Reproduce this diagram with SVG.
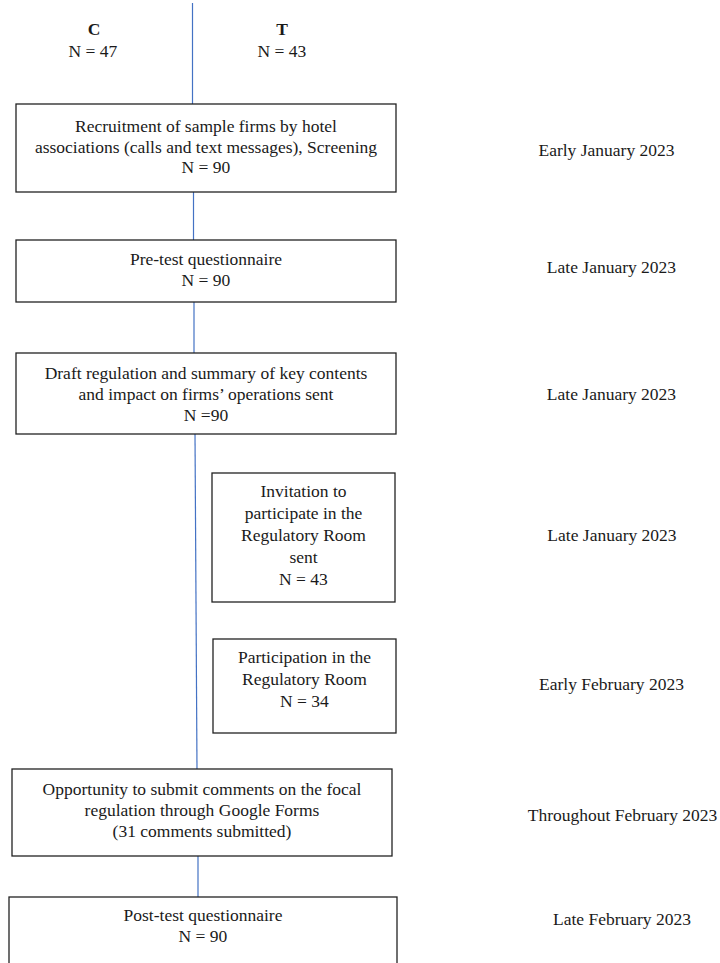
<svg xmlns="http://www.w3.org/2000/svg" width="720" height="963" viewBox="0 0 720 963">
<style>
text{font-family:"Liberation Serif","Times New Roman",serif;font-size:17.5px;fill:#1a1a1a;text-anchor:middle}
.b{font-weight:bold}
.box{fill:#fff;stroke:#222;stroke-width:1.3}
.con{stroke:#4472C4;stroke-width:1.2;fill:none}
</style>
<rect width="720" height="963" fill="#fff"/>
<g id="connectors">
<line class="con" x1="192.5" y1="3" x2="192.5" y2="104"/>
<line class="con" x1="193.5" y1="192" x2="193.5" y2="240"/>
<line class="con" x1="194" y1="302" x2="194" y2="353"/>
<line class="con" x1="195" y1="434" x2="197" y2="769"/>
<line class="con" x1="198" y1="856" x2="198" y2="897"/>
</g>
<g id="group-labels">
<text class="b" x="94" y="35">C</text>
<text x="93" y="57">N = 47</text>
<text class="b" x="282" y="35">T</text>
<text x="282" y="57">N = 43</text>
</g>
<g id="recruitment">
<rect class="box" x="16" y="104" width="380" height="88"/>
<text x="206" y="132">Recruitment of sample firms by hotel</text>
<text x="206" y="152.5">associations (calls and text messages), Screening</text>
<text x="206" y="173">N = 90</text>
</g>
<g id="pretest">
<rect class="box" x="16" y="240" width="380" height="62"/>
<text x="206" y="265">Pre-test questionnaire</text>
<text x="206" y="286">N = 90</text>
</g>
<g id="draft">
<rect class="box" x="16" y="353" width="380" height="81"/>
<text x="206" y="379">Draft regulation and summary of key contents</text>
<text x="206" y="400">and impact on firms’ operations sent</text>
<text x="206" y="421">N =90</text>
</g>
<g id="invitation">
<rect class="box" x="212" y="473" width="183" height="129"/>
<text x="303.5" y="497">Invitation to</text>
<text x="303.5" y="519">participate in the</text>
<text x="303.5" y="541">Regulatory Room</text>
<text x="303.5" y="563">sent</text>
<text x="303.5" y="585">N = 43</text>
</g>
<g id="participation">
<rect class="box" x="213" y="639" width="183" height="94"/>
<text x="304.5" y="663">Participation in the</text>
<text x="304.5" y="685">Regulatory Room</text>
<text x="304.5" y="707">N = 34</text>
</g>
<g id="comments">
<rect class="box" x="12" y="769" width="380" height="87"/>
<text x="202" y="795">Opportunity to submit comments on the focal</text>
<text x="202" y="816">regulation through Google Forms</text>
<text x="202" y="837">(31 comments submitted)</text>
</g>
<g id="posttest">
<rect class="box" x="9" y="897" width="388" height="80"/>
<text x="203" y="921">Post-test questionnaire</text>
<text x="203" y="942">N = 90</text>
</g>
<g id="dates">
<text x="606.5" y="156">Early January 2023</text>
<text x="611.5" y="273">Late January 2023</text>
<text x="611.5" y="400">Late January 2023</text>
<text x="612" y="541">Late January 2023</text>
<text x="611.5" y="690">Early February 2023</text>
<text x="622.5" y="821">Throughout February 2023</text>
<text x="622" y="925">Late February 2023</text>
</g>
</svg>
